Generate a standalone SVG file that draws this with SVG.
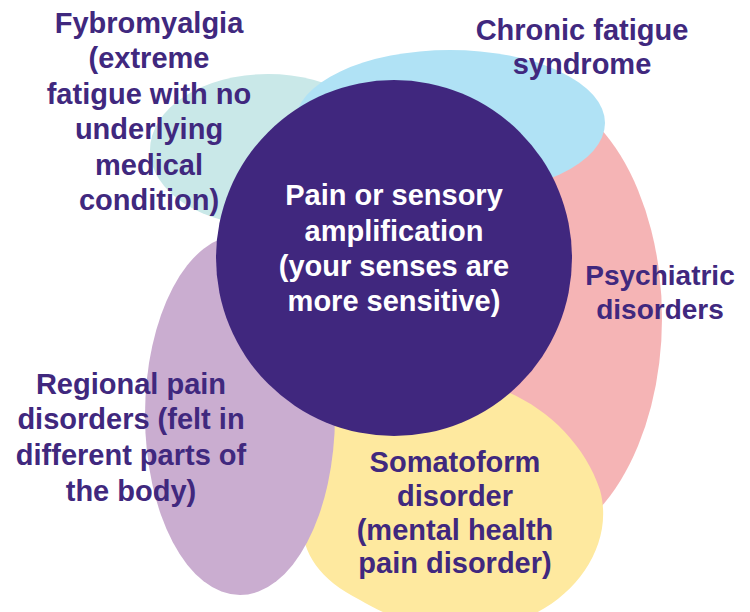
<svg xmlns="http://www.w3.org/2000/svg" width="750" height="612" viewBox="0 0 750 612">
<style>
text{font-family:"Liberation Sans",Arial,sans-serif;font-weight:bold;font-size:29px;text-anchor:middle;fill:#40287e}
.w{fill:#ffffff}
.s{font-size:28px}
</style>
<rect width="750" height="612" fill="#ffffff"/>
<g id="fibromyalgia">
<ellipse cx="268" cy="150" rx="118" ry="76" fill="#c9e8e8"/>
<text x="149" y="33">Fybromyalgia</text>
<text x="149" y="68.4">(extreme</text>
<text x="149" y="103.8">fatigue with no</text>
<text x="149" y="139.2">underlying</text>
<text x="149" y="174.6">medical</text>
<text x="149" y="210">condition)</text>
</g>
<g id="psychiatric">
<ellipse cx="520" cy="318" rx="142" ry="230" fill="#f5b4b5"/>
<text class="s" x="660" y="285">Psychiatric</text>
<text class="s" x="660" y="319">disorders</text>
</g>
<g id="chronic-fatigue">
<ellipse cx="450" cy="123" rx="155" ry="73" fill="#b0e2f5"/>
<text x="582" y="40">Chronic fatigue</text>
<text x="582" y="74">syndrome</text>
</g>
<g id="somatoform">
<path d="M455,380 C520,383 580,430 600,490 C615,545 575,600 520,620 C470,640 410,630 360,600 C310,575 295,540 305,500 C295,430 330,385 455,380 Z" fill="#fee99f"/>
<text x="455" y="472">Somatoform</text>
<text x="455" y="506">disorder</text>
<text x="455" y="540">(mental health</text>
<text x="455" y="573">pain disorder)</text>
</g>
<g id="regional-pain">
<ellipse cx="240" cy="415" rx="95" ry="180" fill="#caadd0"/>
<text x="131" y="394">Regional pain</text>
<text x="131" y="429">disorders (felt in</text>
<text x="131" y="465">different parts of</text>
<text x="131" y="501">the body)</text>
</g>
<g id="pain-amplification">
<circle cx="394" cy="258" r="178" fill="#40277e"/>
<text class="w" x="394" y="205">Pain or sensory</text>
<text class="w" x="394" y="240.5">amplification</text>
<text class="w" x="394" y="276">(your senses are</text>
<text class="w" x="394" y="311">more sensitive)</text>
</g>
<g id="connectors"/>
</svg>
